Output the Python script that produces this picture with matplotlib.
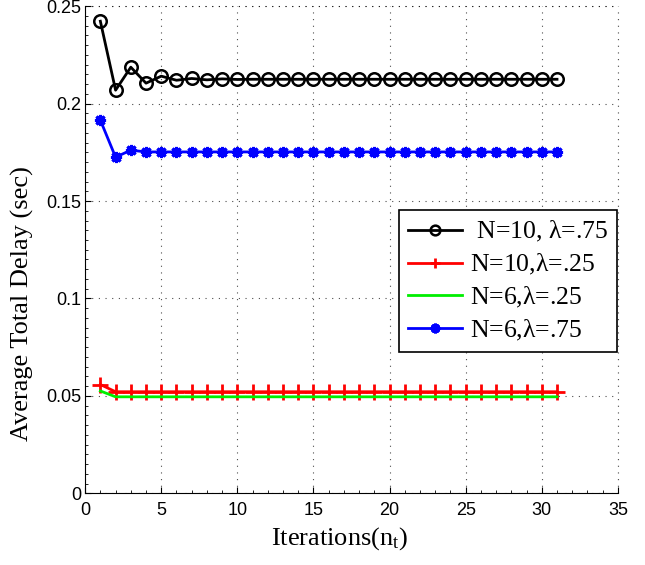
import matplotlib.pyplot as plt
import numpy as np
from matplotlib.ticker import MultipleLocator

# iterations 1..31
iters = np.arange(1, 32)

# N=10, lambda=.75
n10_l75 = [0.2423, 0.2069, 0.2187, 0.2105, 0.2141, 0.2120, 0.2129, 0.2122, 0.2127, 0.2124] + [0.2125] * 21
# N=10, lambda=.25
n10_l25 = [0.0558] + [0.0521] * 30
# N=6, lambda=.25
n6_l25 = [0.0525] + [0.0495] * 30
# N=6, lambda=.75
n6_l75 = [0.1915, 0.1725, 0.1761] + [0.1752] * 28

labels = [' N=10, $\\lambda$=.75', 'N=10,$\\lambda$=.25', 'N=6,$\\lambda$=.25', 'N=6,$\\lambda$=.75']

plt.rcParams['mathtext.fontset'] = 'custom'
plt.rcParams['mathtext.rm'] = 'Liberation Serif'
plt.rcParams['mathtext.it'] = 'Liberation Serif'

fig = plt.figure(figsize=(6.45, 5.65), dpi=100)
ax = fig.add_axes([0.132, 0.127, 0.826, 0.862])

ax.plot(iters, n10_l75, color='black', lw=2, marker='o', ms=9, mfc='none', mew=1.8, label=labels[0])
ax.plot(iters, n10_l25, color='red', lw=2, marker='+', ms=11, mew=2, label=labels[1])
ax.plot(iters, n6_l25, color='#00ee00', lw=2, label=labels[2])
ax.plot(iters, n6_l75, color='blue', lw=2, marker=(8, 2, 0), ms=8, mew=2.2, label=labels[3])

ax.set_xlim(0, 35)
ax.set_ylim(0, 0.25)
ax.set_xticks(np.arange(0, 36, 5))
ax.set_yticks([0, 0.05, 0.1, 0.15, 0.2, 0.25])
ax.set_yticklabels(['0', '0.05', '0.1', '0.15', '0.2', '0.25'])
ax.xaxis.set_minor_locator(MultipleLocator(1))
ax.yaxis.set_minor_locator(MultipleLocator(0.005))
ax.tick_params(which='both', direction='in', top=False, right=False)
ax.tick_params(which='major', length=4, labelsize=13)
ax.tick_params(axis='x', which='major', pad=6)
ax.tick_params(axis='y', which='major', pad=3)
ax.tick_params(which='minor', length=2)
for t in ax.get_xticklabels() + ax.get_yticklabels():
    t.set_family('Liberation Sans')

ax.spines['top'].set_visible(False)
ax.spines['right'].set_visible(False)
ax.grid(True, color='black', linestyle=(0, (1, 5)), lw=0.8, alpha=0.7)
# dotted box on top/right like the grid
ax.axhline(0.25, color='black', linestyle=(0, (1, 5)), lw=0.8, alpha=0.7, clip_on=False)
ax.axvline(35, color='black', linestyle=(0, (1, 5)), lw=0.8, alpha=0.7, clip_on=False)

ax.set_xlabel('Iterations(n$_{\\mathrm{t}}$)', family='Liberation Serif', fontsize=19)
ax.set_ylabel('Average Total Delay (sec)', family='Liberation Serif', fontsize=19)
ax.xaxis.set_label_coords(0.478, -0.066)
ax.yaxis.set_label_coords(-0.096, 0.39)

leg = ax.legend(loc='upper right', bbox_to_anchor=(0.998, 0.581), prop={'family': 'Liberation Serif', 'size': 18.5},
                fancybox=False, edgecolor='black', framealpha=1, handlelength=2.1, borderpad=0.35,
                labelspacing=0.3, handletextpad=0.3, borderaxespad=0)
leg.get_frame().set_linewidth(1.2)
for h in leg.legend_handles:
    h.set_markersize(7)

fig.savefig('out.png', dpi=100)
